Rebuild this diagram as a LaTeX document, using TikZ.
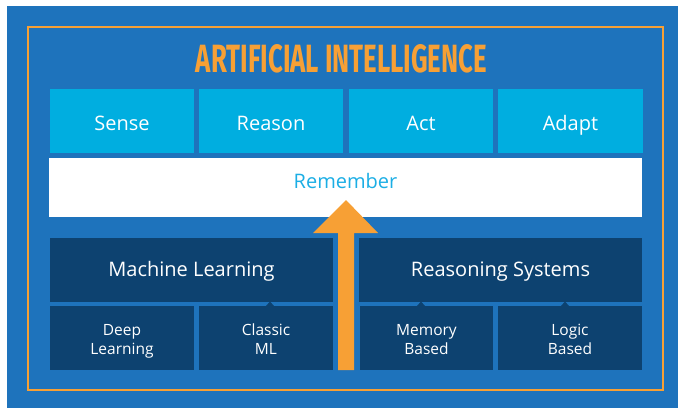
\documentclass[tikz,border=0pt]{standalone}
\usepackage{fontspec}
\setmainfont{Open Sans}
\newfontfamily\titlefont{Fira Sans}
\usetikzlibrary{positioning}
\definecolor{aiblue}{RGB}{30,115,188}
\definecolor{aicyan}{RGB}{0,174,224}
\definecolor{ainavy}{RGB}{13,66,112}
\definecolor{aiorange}{RGB}{247,160,53}
\definecolor{remcyan}{RGB}{27,174,229}

\begin{document}
\begin{tikzpicture}[x=1pt,y=-1pt,
	topbox/.style={fill=aicyan, minimum width=144pt, minimum height=64pt, inner sep=0pt, text=white, text height=21.4pt, text depth=2pt, font=\fontsize{20}{24}\selectfont},
	mainbox/.style={fill=ainavy, minimum width=283pt, minimum height=64pt, inner sep=0pt, text=white, text height=15.4pt, text depth=2pt, font=\fontsize{20}{24}\selectfont},
	subbox/.style={fill=ainavy, minimum width=144pt, minimum height=64pt, inner sep=0pt, text=white, align=center, text height=32pt, text depth=0pt, font=\fontsize{15.5}{19}\selectfont},
	notch/.style={fill=ainavy}]
	%BACKGROUND
	\useasboundingbox (0,0) rectangle (678,408);
	\fill[aiblue] (7,6) rectangle (678,408);
	\draw[aiorange, line width=2pt] (28,27) rectangle (663,390);
	
	%TITLE
	\node[text=aiorange, inner sep=0pt] (title) at (341.5,59) {\resizebox{291pt}{28pt}{\titlefont\bfseries ARTIFICIAL INTELLIGENCE}};
	
	%TOP ROW
	\node[topbox] (sense) at (122,121) {Sense};
	\node[topbox] (reason) at (271,121) {Reason};
	\node[topbox] (act) at (421,121) {Act};
	\node[topbox, minimum width=145pt] (adapt) at (570.5,121) {Adapt};
	
	\node[fill=white, minimum width=593pt, minimum height=59pt, inner sep=0pt] (remember) at (345.5,187.5) {};
	\node[text=remcyan, font=\fontsize{20}{24}\selectfont] (remtext) at (345.5,181) {Remember};
	
	%LOWER BLOCKS
	\node[mainbox] (ml) at (191.5,270) {Machine Learning};
	\node[mainbox] (rs) at (500.5,270) {Reasoning Systems};
	
	\node[subbox] (deep) at (122,338) {Deep\\Learning};
	\node[subbox, minimum width=134pt] (classic) at (266,338) {Classic\\ML};
	\node[subbox, minimum width=133pt] (memory) at (426.5,338) {Memory\\Based};
	\node[subbox] (logic) at (570,338) {Logic\\Based};
	
	\fill[notch] (266,306) -- (270,301.5) -- (274,306) -- cycle;
	\fill[notch] (417,306) -- (421,301.5) -- (425,306) -- cycle;
	\fill[notch] (561,306) -- (565,301.5) -- (569,306) -- cycle;
	
	%ARROW
	\fill[aiorange] (338,370) -- (338,233) -- (313,233) -- (346,200) -- (378,233) -- (354,233) -- (354,370) -- cycle;
	
\end{tikzpicture}
\end{document}
